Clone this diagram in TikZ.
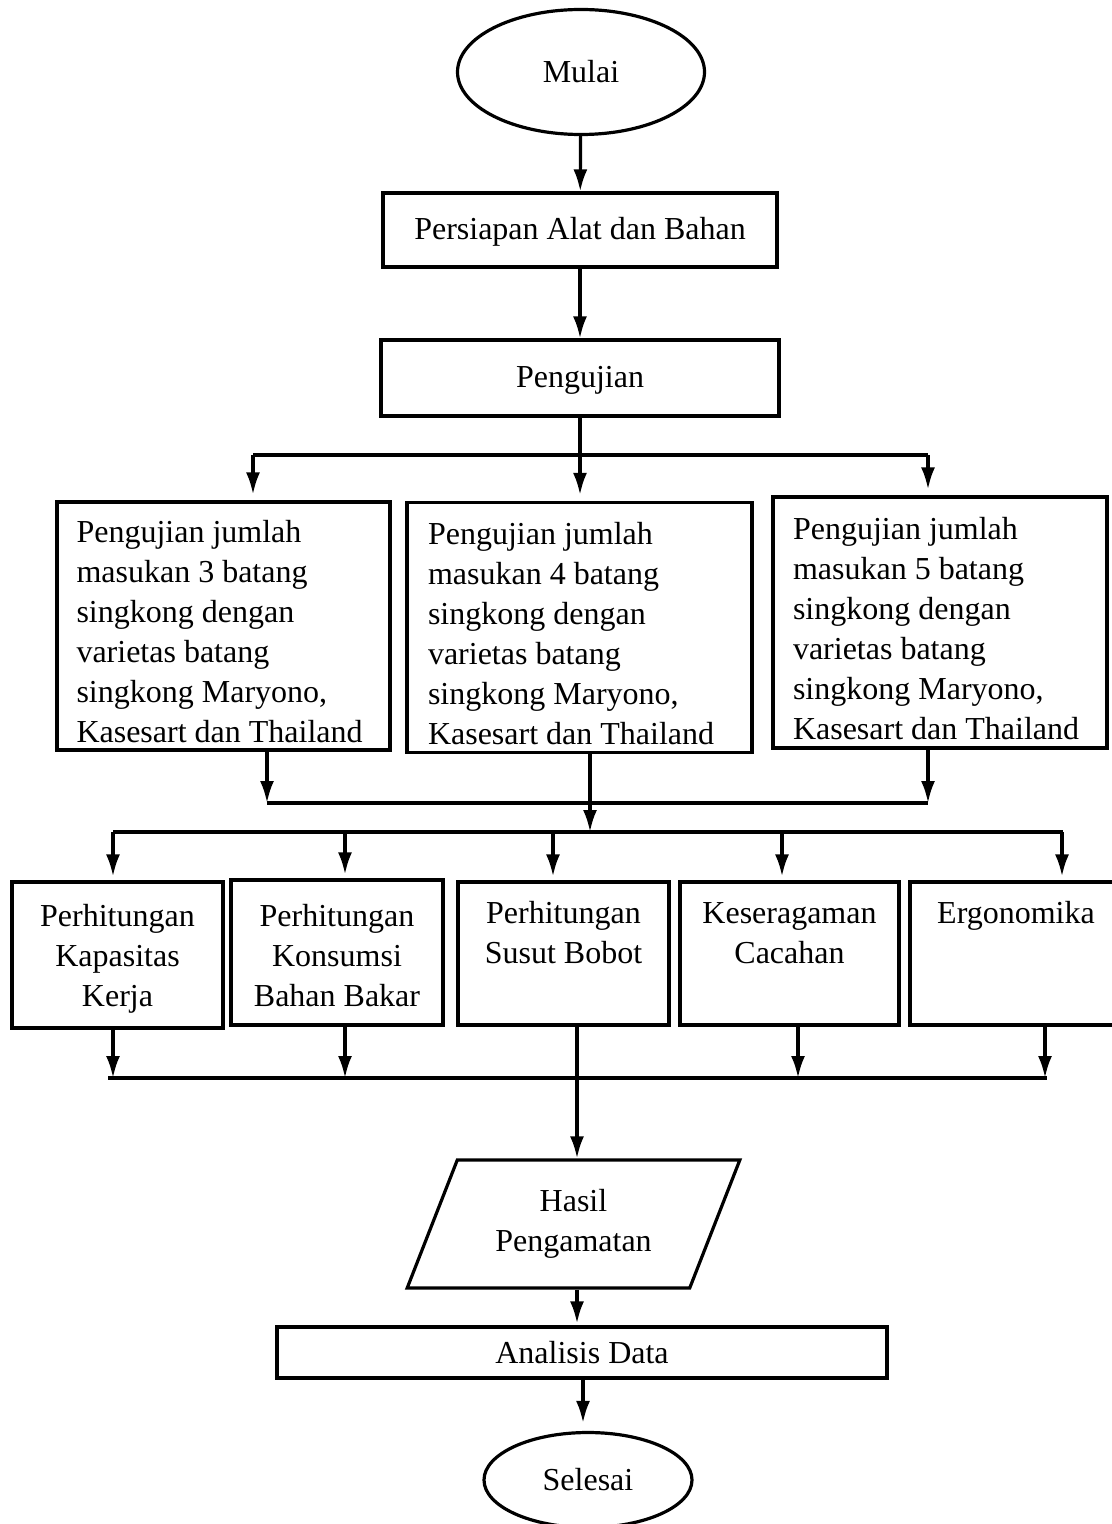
\documentclass[tikz,border=0pt]{standalone}
\usepackage{fontspec}
\setmainfont{Liberation Serif}
\usepackage{tikz}
\usetikzlibrary{shapes.geometric}
\usetikzlibrary{arrows.meta}
\usetikzlibrary{calc}

\newcommand{\turun}[1]{\rule{0pt}{#1}}

\tikzset{
  basis/.style={draw, line width=1.6pt, font={\fontsize{16}{20}\selectfont}},
  terminal/.style={basis, ellipse, inner sep=0pt},
  proses/.style={basis, rectangle, inner sep=2pt, align=center},
  uraian/.style={basis, rectangle, inner ysep=2pt, align=flush left},
  masukan/.style={basis, trapezium, trapezium left angle=64, trapezium right angle=116,
    trapezium stretches=true, inner sep=0pt, align=center},
  garis/.style={line width=1.6pt},
  panah/.style={line width=1.6pt, -{Latex[length=11pt,width=7pt]}}
}

\begin{document}
\begin{tikzpicture}[x=0.5pt, y=-0.5pt]
\clip (0,0) rectangle (1112,1524);
\fill[white] (0,0) rectangle (1112,1524);
  \node[terminal, minimum width=123.5pt, minimum height=62.5pt] (mulai) at (581, 72) {Mulai}; %awal
  \node[proses, minimum width=197pt, minimum height=37pt] (siap) at (580, 230) {\turun{13pt}Persiapan Alat dan Bahan}; %proses
  \node[proses, minimum width=199pt, minimum height=38pt] (uji) at (580, 378) {\turun{13pt}Pengujian}; %proses
  \node[uraian, inner xsep=9.75pt, text width=147pt, minimum height=124pt] (ujiA) at (223.5, 626) {\turun{17pt}Pengujian jumlah\\masukan 3 batang\\singkong dengan\\varietas batang\\singkong Maryono,\\Kasesart dan Thailand}; %3 batang
  \node[uraian, inner xsep=10.5pt, text width=151.5pt, minimum height=125pt] (ujiB) at (579.5, 627.5) {\turun{17pt}Pengujian jumlah\\masukan 4 batang\\singkong dengan\\varietas batang\\singkong Maryono,\\Kasesart dan Thailand}; %4 batang
  \node[uraian, inner xsep=10pt, text width=147pt, minimum height=125.5pt] (ujiC) at (940, 622.5) {\turun{17pt}Pengujian jumlah\\masukan 5 batang\\singkong dengan\\varietas batang\\singkong Maryono,\\Kasesart dan Thailand}; %5 batang
  \node[proses, minimum width=105.5pt, minimum height=73pt] (kapasitas) at (117.5, 955) {\turun{15pt}Perhitungan\\Kapasitas\\Kerja}; %parameter
  \node[proses, minimum width=106pt, minimum height=72.5pt] (konsumsi) at (337, 952.5) {\turun{14pt}Perhitungan\\Konsumsi\\Bahan Bakar}; %parameter
  \node[proses, minimum width=105.5pt, minimum height=71.5pt] (susut) at (563.5, 953.5) {\turun{16pt}Perhitungan\\Susut Bobot\\\strut}; %parameter
  \node[proses, minimum width=109.5pt, minimum height=71.5pt] (seragam) at (789.5, 953.5) {\turun{16pt}Keseragaman\\Cacahan\\\strut}; %parameter
  \node[proses, minimum width=106pt, minimum height=71.5pt] (ergo) at (1016, 953.5) {\turun{16pt}Ergonomika\\\strut\\\strut}; %parameter
  \node[masukan, minimum width=166.5pt, minimum height=64pt] (hasil) at (573.5, 1224) {Hasil\\Pengamatan}; %data
  \node[proses, minimum width=305pt, minimum height=25.5pt] (analisis) at (582, 1352.5) {Analisis Data}; %proses
  \node[terminal, minimum width=104pt, minimum height=47.5pt] (selesai) at (588, 1480) {Selesai}; %akhir
  % titik cabang
  \coordinate (c1w) at (253, 455);
  \coordinate (c1e) at (928, 455);
  \coordinate (c2w) at (267, 803);
  \coordinate (c2e) at (928, 803);
  \coordinate (c3w) at (113, 832);
  \coordinate (c3e) at (1063, 832);
  \coordinate (c4w) at (108, 1078);
  \coordinate (c4e) at (1047, 1078);
  \draw[panah] (mulai) -- (siap);
  \draw[panah] (siap) -- (uji);
  \draw[garis] (c1w) -- (c1e);
  \draw[panah, shorten >=3pt] (uji.south) -- (uji.south |- ujiB.north);
  \draw[panah, shorten >=3pt] (c1w) -- (c1w |- ujiA.north);
  \draw[panah, shorten >=3pt] (c1e) -- (c1e |- ujiC.north);
  \draw[garis] (c2w) -- (c2e);
  \draw[panah] (c2w |- ujiA.south) -- (c2w);
  \draw[panah] (c2e |- ujiC.south) -- (c2e);
  \draw[panah] (ujiB.south -| 590, 0) -- (590, 832);
  \draw[garis] (c3w) -- (c3e);
  \draw[panah, shorten >=2pt] (c3w) -- (c3w |- kapasitas.north);
  \draw[panah, shorten >=2pt] (345, 832) -- (345, 832 |- konsumsi.north);
  \draw[panah, shorten >=2pt] (553, 832) -- (553, 832 |- susut.north);
  \draw[panah, shorten >=2pt] (782, 832) -- (782, 832 |- seragam.north);
  \draw[panah, shorten >=2pt] (1062, 832) -- (1062, 832 |- ergo.north);
  \draw[garis] (c4w) -- (c4e);
  \draw[panah] (113, 0 |- kapasitas.south) -- (113, 1078);
  \draw[panah] (345, 0 |- konsumsi.south) -- (345, 1078);
  \draw[panah] (798, 0 |- seragam.south) -- (798, 1078);
  \draw[panah] (1045, 0 |- ergo.south) -- (1045, 1078);
  \draw[panah] (577, 0 |- susut.south) -- (577, 0 |- hasil.north);
  \draw[panah, shorten >=1pt] (577, 0 |- hasil.south) -- (577, 0 |- analisis.north);
  \draw[panah, shorten >=4pt] (583, 0 |- analisis.south) -- (583, 0 |- selesai.north);
\end{tikzpicture}
\end{document}
